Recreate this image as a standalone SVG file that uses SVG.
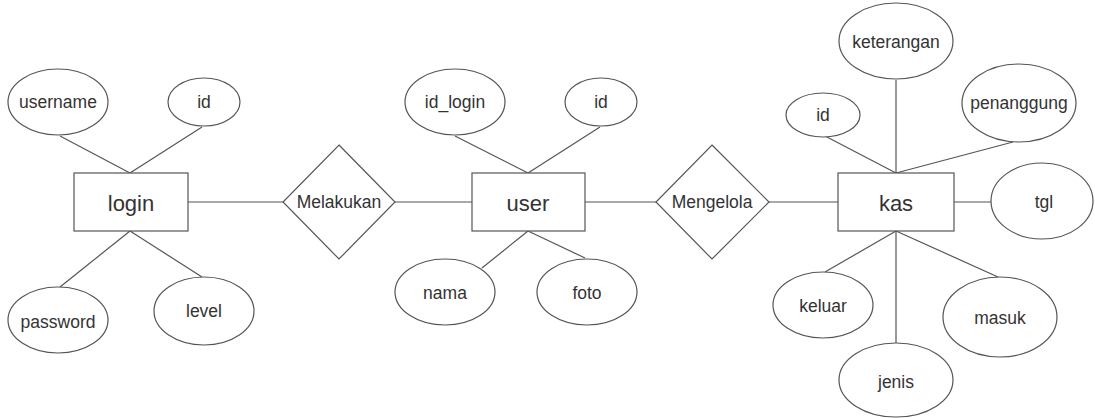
<svg xmlns="http://www.w3.org/2000/svg" width="1095" height="418" viewBox="0 0 1095 418">
<style>
.shape{fill:#ffffff;stroke:#555555;stroke-width:1.2}
.conn line{stroke:#555555;stroke-width:1.2}
.t{font-family:"Liberation Sans",Arial,sans-serif;font-size:17.5px;fill:#333333;text-anchor:middle;dominant-baseline:central}
.e{font-size:22px}
</style>
<rect width="1095" height="418" fill="#ffffff"/>
<g class="conn" id="connectors">
<line x1="60" y1="136" x2="130" y2="173"/>
<line x1="202" y1="127" x2="130" y2="173"/>
<line x1="130" y1="231" x2="60" y2="287"/>
<line x1="130" y1="231" x2="202" y2="277"/>
<line x1="188" y1="202" x2="283" y2="202"/>
<line x1="395" y1="202" x2="472" y2="202"/>
<line x1="455" y1="136" x2="528" y2="173"/>
<line x1="600" y1="127" x2="528" y2="173"/>
<line x1="528" y1="231" x2="482" y2="268"/>
<line x1="528" y1="231" x2="585" y2="258"/>
<line x1="585" y1="202" x2="656" y2="202"/>
<line x1="769" y1="202" x2="838" y2="202"/>
<line x1="896" y1="80" x2="896" y2="173"/>
<line x1="825" y1="136" x2="896" y2="173"/>
<line x1="1013" y1="142" x2="896" y2="173"/>
<line x1="954" y1="202" x2="991" y2="202"/>
<line x1="896" y1="231" x2="825" y2="272"/>
<line x1="896" y1="231" x2="896" y2="343"/>
<line x1="896" y1="231" x2="998" y2="277"/>
</g>
<g id="login"><rect class="shape" x="74" y="173" width="114" height="58"/><text class="t e" x="131" y="203">login</text></g>
<g id="login-username"><ellipse class="shape" cx="58" cy="102" rx="50" ry="33"/><text class="t" x="58" y="102">username</text></g>
<g id="login-id"><ellipse class="shape" cx="204" cy="102" rx="36" ry="24"/><text class="t" x="204" y="102">id</text></g>
<g id="login-password"><ellipse class="shape" cx="58" cy="320" rx="50" ry="33"/><text class="t" x="58" y="322">password</text></g>
<g id="login-level"><ellipse class="shape" cx="204" cy="311" rx="50" ry="34"/><text class="t" x="204" y="311">level</text></g>
<g id="melakukan"><polygon class="shape" points="339,145 395,202 339,259 283,202"/><text class="t" x="339" y="202">Melakukan</text></g>
<g id="user"><rect class="shape" x="472" y="173" width="113" height="58"/><text class="t e" x="528" y="203">user</text></g>
<g id="user-id_login"><ellipse class="shape" cx="455" cy="102" rx="50" ry="33"/><text class="t" x="455" y="102">id_login</text></g>
<g id="user-id"><ellipse class="shape" cx="601" cy="102" rx="36" ry="24"/><text class="t" x="601" y="102">id</text></g>
<g id="user-nama"><ellipse class="shape" cx="445" cy="292" rx="50" ry="33"/><text class="t" x="445" y="293">nama</text></g>
<g id="user-foto"><ellipse class="shape" cx="587" cy="292" rx="50" ry="33"/><text class="t" x="587" y="293">foto</text></g>
<g id="mengelola"><polygon class="shape" points="712,145 769,202 712,259 656,202"/><text class="t" x="712" y="202">Mengelola</text></g>
<g id="kas"><rect class="shape" x="838" y="173" width="116" height="58"/><text class="t e" x="896" y="203">kas</text></g>
<g id="kas-keterangan"><ellipse class="shape" cx="896" cy="41" rx="57" ry="38"/><text class="t" x="896" y="42">keterangan</text></g>
<g id="kas-id"><ellipse class="shape" cx="823" cy="115" rx="37" ry="22"/><text class="t" x="823" y="115">id</text></g>
<g id="kas-penanggung"><ellipse class="shape" cx="1019" cy="103" rx="57" ry="39"/><text class="t" x="1019" y="103">penanggung</text></g>
<g id="kas-tgl"><ellipse class="shape" cx="1042" cy="201" rx="51" ry="38"/><text class="t" x="1044" y="202">tgl</text></g>
<g id="kas-keluar"><ellipse class="shape" cx="823" cy="305" rx="50" ry="33"/><text class="t" x="823" y="306">keluar</text></g>
<g id="kas-masuk"><ellipse class="shape" cx="1000" cy="317" rx="57" ry="40"/><text class="t" x="1000" y="318">masuk</text></g>
<g id="kas-jenis"><ellipse class="shape" cx="896" cy="380" rx="57" ry="37"/><text class="t" x="896" y="382">jenis</text></g>
</svg>
